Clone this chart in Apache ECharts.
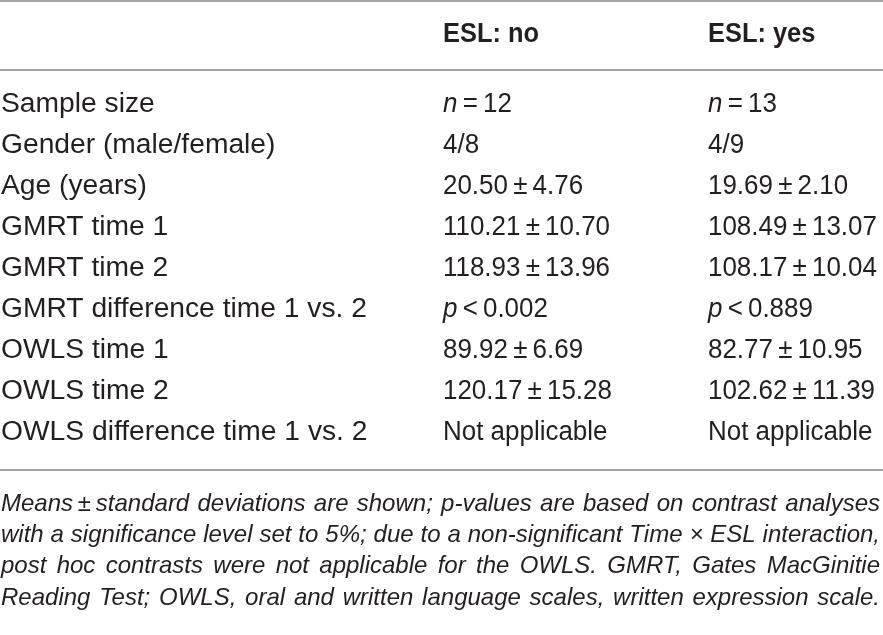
<!DOCTYPE html>
<html>
<head>
<meta charset="utf-8">
<script src="https://cdn.jsdelivr.net/npm/echarts@6/dist/echarts.min.js"></script>
<style>
  html, body { margin: 0; padding: 0; background: #fff; }
  #main { width: 883px; height: 635px; }
</style>
</head>
<body>
<div id="main"></div>
<script>
// table content
var headers = ['', 'ESL: no', 'ESL: yes']
var rowLabels = [
  'Sample size',
  'Gender (male/female)',
  'Age (years)',
  'GMRT time 1',
  'GMRT time 2',
  'GMRT difference time 1 vs. 2',
  'OWLS time 1',
  'OWLS time 2',
  'OWLS difference time 1 vs. 2'
]
var eslNo = [
  '{i|n}\u2009=\u200912',
  '4/8',
  '20.50\u2009±\u20094.76',
  '110.21\u2009±\u200910.70',
  '118.93\u2009±\u200913.96',
  '{i|p}\u2009<\u20090.002',
  '89.92\u2009±\u20096.69',
  '120.17\u2009±\u200915.28',
  'Not applicable'
]
var eslYes = [
  '{i|n}\u2009=\u200913',
  '4/9',
  '19.69\u2009±\u20092.10',
  '108.49\u2009±\u200913.07',
  '108.17\u2009±\u200910.04',
  '{i|p}\u2009<\u20090.889',
  '82.77\u2009±\u200910.95',
  '102.62\u2009±\u200911.39',
  'Not applicable'
]
var footnote = [
  'Means\u2009±\u2009standard deviations are shown; p-values are based on contrast analyses',
  'with a significance level set to 5%; due to a non-significant Time × ESL interaction,',
  'post hoc contrasts were not applicable for the OWLS. GMRT, Gates MacGinitie',
  'Reading Test; OWLS, oral and written language scales, written expression scale.'
]

var FAMILY = '"Liberation Sans", Arial, sans-serif'
var INK = '#231f20'
var RULE = '#a3a3a3'
var W = 883
var colX = [1, 443, 708]
var headerY = 34
var firstRowY = 104
var rowStep = 41
var ruleY = [1, 70, 470]
var noteY = 504
var noteStep = 31.3

var ctx = document.createElement('canvas').getContext('2d')
function textWidth (txt, font) {
  ctx.font = font
  return ctx.measureText(txt).width
}

// body font sized so the longest row label is as wide as in the original
var bodySize = 26 * 366 / textWidth(rowLabels[5], '26px ' + FAMILY)
var BODY = bodySize.toFixed(2) + 'px ' + FAMILY
var HEAD = 'bold ' + bodySize.toFixed(2) + 'px ' + FAMILY
// digits in the original are narrower: squeeze value cells horizontally
var valueScale = 167 / textWidth(eslNo[3], BODY)
var headScale = 96 / textWidth(headers[1], HEAD)

// footnote: italic, condensed, each line justified to the full width
var noteRight = 880
var NOTE = 'italic 24px ' + FAMILY
var widest = Math.max.apply(null, footnote.map(function (l) { return textWidth(l, NOTE) }))
var noteScale = Math.min(1, (noteRight - 4) / widest)

var chart = echarts.init(document.getElementById('main'), null, { renderer: 'canvas' })

function cell (x, y, txt, font, sx) {
  return {
    type: 'text',
    x: x,
    y: y,
    scaleX: sx || 1,
    style: {
      text: txt,
      fill: INK,
      font: font,
      verticalAlign: 'middle',
      align: 'left',
      rich: {
        i: { fontStyle: 'italic', fontSize: bodySize, fontFamily: FAMILY, fill: INK }
      }
    }
  }
}

var elements = []

ruleY.forEach(function (y) {
  elements.push({
    type: 'line',
    shape: { x1: 0, y1: y, x2: W, y2: y },
    style: { stroke: RULE, lineWidth: 2 }
  })
})

headers.forEach(function (h, c) {
  if (h) elements.push(cell(colX[c], headerY, h, HEAD, headScale))
})

rowLabels.forEach(function (label, r) {
  var y = firstRowY + r * rowStep
  elements.push(cell(colX[0], y, label, BODY))
  elements.push(cell(colX[1], y, eslNo[r], BODY, valueScale))
  elements.push(cell(colX[2], y, eslYes[r], BODY, valueScale))
})

footnote.forEach(function (line, r) {
  var y = noteY + r * noteStep
  var words = line.split(' ')
  var widths = words.map(function (w) { return textWidth(w, NOTE) * noteScale })
  var total = widths.reduce(function (a, b) { return a + b }, 0)
  var gap = (noteRight - colX[0] - total) / (words.length - 1)
  var x = colX[0]
  words.forEach(function (w, k) {
    elements.push(cell(x, y, w, NOTE, noteScale))
    x += widths[k] + gap
  })
})

chart.setOption({
  animation: false,
  graphic: { elements: elements }
})
</script>
</body>
</html>
